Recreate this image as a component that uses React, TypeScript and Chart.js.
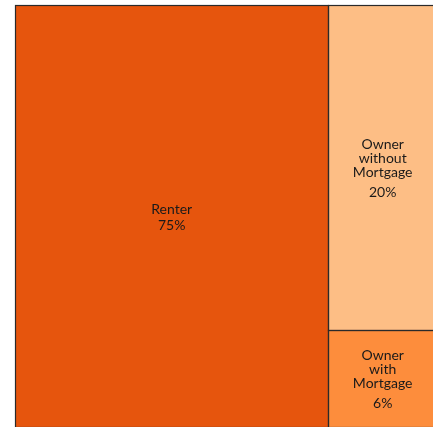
import React, { useEffect, useRef } from "react";
import { Chart, registerables } from "chart.js";

Chart.register(...registerables);

const categories = ["Renter", "Owner without Mortgage", "Owner with Mortgage"];
const labelLines = [["Renter"], ["Owner", "without", "Mortgage"], ["Owner", "with", "Mortgage"]];
const values = [75, 20, 6];
const percentLabels = ["75%", "20%", "6%"];
const colors = ["#E6550D", "#FDBE85", "#FD8D3C"];

type Cell = { x0: number; x1: number; y0: number; y1: number };

function layoutCells(vals: number[]): Cell[] {
  const total = vals.reduce((a, b) => a + b, 0);
  const cells: Cell[] = [];
  const firstW = vals[0] / total;
  cells.push({ x0: 0, x1: firstW, y0: 0, y1: 1 });
  const rest = vals.slice(1);
  const restTotal = rest.reduce((a, b) => a + b, 0);
  let y = 0;
  rest.forEach((v) => {
    const h = v / restTotal;
    cells.push({ x0: firstW, x1: 1, y0: y, y1: y + h });
    y += h;
  });
  return cells;
}

const treemapPlugin = {
  id: "treemapCells",
  afterDatasetsDraw(chart: any) {
    const ctx = chart.ctx as CanvasRenderingContext2D;
    const xs = chart.scales.x;
    const ys = chart.scales.y;
    const cells = layoutCells(values);
    const snap = (v: number) => Math.round(v) + 0.5;
    ctx.save();
    cells.forEach((c, i) => {
      const left = xs.getPixelForValue(c.x0);
      const right = xs.getPixelForValue(c.x1);
      const top = ys.getPixelForValue(c.y0);
      const bottom = ys.getPixelForValue(c.y1);
      ctx.fillStyle = colors[i];
      ctx.fillRect(left, top, right - left, bottom - top);
    });
    cells.forEach((c) => {
      const l = snap(xs.getPixelForValue(c.x0));
      const r = snap(xs.getPixelForValue(c.x1));
      const t = snap(ys.getPixelForValue(c.y0));
      const b = snap(ys.getPixelForValue(c.y1));
      ctx.strokeStyle = "#2a2a2a";
      ctx.lineWidth = 1.2;
      ctx.strokeRect(l, t, r - l, b - t);
    });
    ctx.fillStyle = "#1a1a1a";
    ctx.textAlign = "center";
    ctx.textBaseline = "alphabetic";
    ctx.font = "14px Lato";
    cells.forEach((c, i) => {
      const cx = (xs.getPixelForValue(c.x0) + xs.getPixelForValue(c.x1)) / 2;
      const cy = (ys.getPixelForValue(c.y0) + ys.getPixelForValue(c.y1)) / 2;
      const lines = labelLines[i];
      const lh = 13.9;
      const gap = lines.length > 1 ? 20.8 : 15.5;
      const cap = 9.5;
      const blockH = cap + (lines.length - 1) * lh + gap;
      const yTop = cy - blockH / 2 + cap + 1;
      lines.forEach((ln, k) => {
        ctx.fillText(ln, cx, yTop + k * lh);
      });
      ctx.fillText(percentLabels[i], cx, yTop + (lines.length - 1) * lh + gap);
    });
    ctx.restore();
  },
};

export default function App() {
  const ref = useRef<HTMLCanvasElement | null>(null);
  useEffect(() => {
    if (!ref.current) return;
    const cells = layoutCells(values);
    const chart = new Chart(ref.current, {
      type: "scatter",
      data: {
        datasets: [
          {
            label: "Tenure",
            data: cells.map((c, i) => ({ x: (c.x0 + c.x1) / 2, y: (c.y0 + c.y1) / 2, name: categories[i] })) as any,
            pointRadius: 0,
            pointHoverRadius: 0,
          },
        ],
      },
      options: {
        animation: false,
        responsive: true,
        maintainAspectRatio: false,
        layout: { padding: { left: 15, top: 5, right: 3, bottom: 3 } },
        plugins: { legend: { display: false }, tooltip: { enabled: false } },
        scales: {
          x: { type: "linear", min: 0, max: 1, display: false },
          y: { type: "linear", min: 0, max: 1, reverse: true, display: false },
        },
      },
      plugins: [treemapPlugin],
    });
    return () => chart.destroy();
  }, []);
  return (
    <div style={{ position: "fixed", left: 0, top: 0, width: 440, height: 430 }}>
      <canvas ref={ref} />
    </div>
  );
}
